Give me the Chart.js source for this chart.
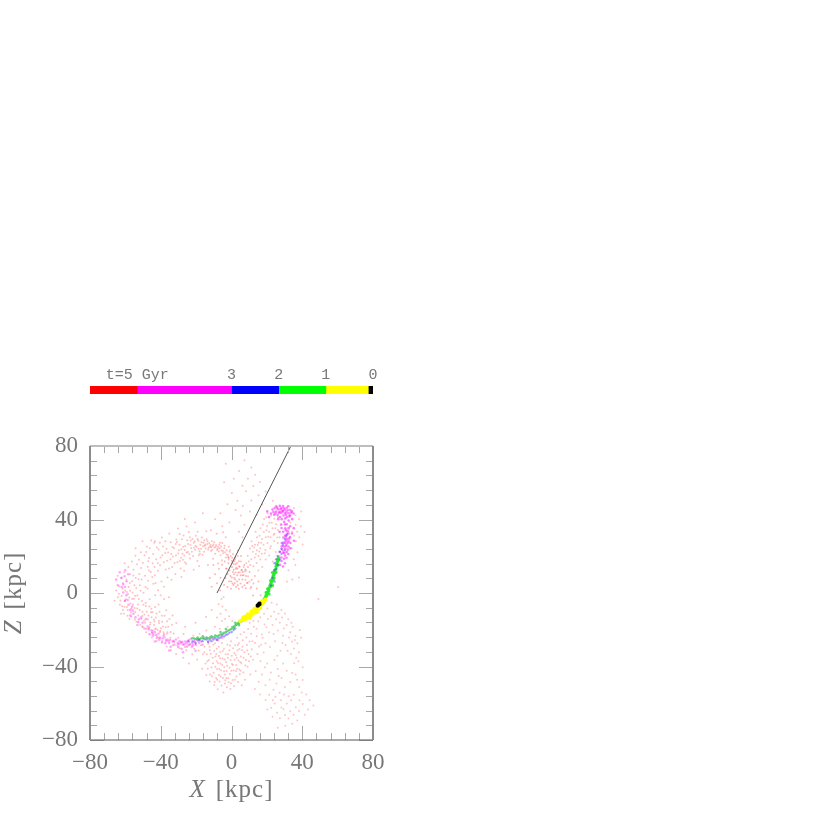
<!DOCTYPE html>
<html>
<head>
<meta charset="utf-8">
<title>Stream X-Z</title>
<script src="https://cdn.jsdelivr.net/npm/chart.js@4/dist/chart.umd.min.js"></script>
<style>
body { margin: 0; background: #fff; }
canvas { position: absolute; left: 0; filter: blur(0.5px); }
#scatter { top: 0; }
#timebar { top: 360px; }
</style>
</head>
<body>
<div style="position:relative;width:830px;height:830px;overflow:hidden">
<canvas id="scatter" width="830" height="830"></canvas>
<canvas id="timebar" width="400" height="50"></canvas>
</div>
<script>
// colour bar: length of each age band in Gyr, oldest on the left
const barBands = ["red", "magenta", "blue", "lime", "yellow", "black"];
const barLengths = [1, 2, 1, 1, 0.9, 0.1];
const barTickLabels = ["", "t=5 Gyr", "", "3", "2", "1", "0"];

// axis
const axisMin = -80;
const axisMax = 80;
const xTitle = ["X", "[kpc]"];
const zTitle = ["Z", "[kpc]"];

// the straight line, [x, z]
const orbitLine = [[-8.2, 0], [33.6, 80]];

// particles, [x, z] in kpc
const redRingTop = [
[-44.3,21.2],[-42.6,18.4],[-41.2,23.7],[-40.4,15.1],[-39.1,20.6],[-38.7,25.3],[-37.2,12.8],[-36.4,17.5],[-35.8,22.1],[-34.3,27.6],[-33.6,14.2],[-33.1,19.9],[-32.5,24.4],[-31.7,10.3],[-31.2,29.1],
[-30.6,16.7],[-30.1,21.5],[-29.4,26.2],[-28.8,13.4],[-28.3,23.8],[-27.5,18.1],[-27.1,31.3],[-26.7,20.4],[-26.2,25.6],[-25.6,15.9],[-25.1,28.7],[-24.7,22.3],[-24.2,33.2],[-23.5,18.8],[-23.2,26.1],[-22.8,24.5],
[-22.1,29.4],[-21.7,20.2],[-21.3,27.3],[-20.6,23.6],[-20.2,31.1],[-19.7,25.2],[-19.3,17.4],[-18.8,28.5],[-18.1,22.7],[-17.6,26.3],[-17.2,24.1],[-16.7,30.2],[-16.4,20.8],[-15.8,27.4],[-15.2,25.7],[-14.6,24.2],
[-14.1,29.3],[-13.7,26.6],[-13.2,23.5],[-12.6,27.1],[-12.2,25.3],[-11.6,22.8],[-11.1,28.2],[-10.7,25.6],[-10.2,26.4],[-9.6,24.7],[-9.2,21.3],[-8.7,26.1],[-8.1,23.4],[-7.6,25.2],[-7.2,22.6],[-6.7,24.3],
[-6.2,20.5],[-5.6,23.1],[-5.2,27.2],[-4.7,21.6],[-4.1,24.4],[-3.6,22.2],[-3.2,19.3],[-2.7,23.3],[-2.1,20.7],[-1.6,18.2],[-1.1,22.4],[-0.4,20.1],[0.2,17.6],[0.8,21.2],[1.3,15.7],[1.9,18.4],
[2.4,13.2],[3.1,16.3],[3.6,20.2],[4.2,14.5],[4.7,11.3],[5.3,17.2],[5.8,12.4],[6.3,9.6],[6.9,14.1],[7.4,11.7],[7.9,7.2],[8.3,12.3],[8.8,5.4],[9.4,9.1],[10.2,6.3],[10.7,2.4],
[-46.2,24.3],[-43.3,28.1],[-39.4,30.2],[-35.2,32.4],[-30.3,35.1],[-25.4,36.2],[-20.6,38.3],[-14.2,33.6],[-8.4,32.2],[-3.3,30.4],[-47.1,17.3],[-36.2,8.4],[-28.3,8.7],[-21.4,12.6],[-13.3,15.2],[-7.6,16.1],
[-43.5,14.2],[-40.5,27.3],[-37.5,21.8],[-34.5,18.3],[-31.5,26.7],[-28.5,19.2],[-26.5,23.4],[-23.5,30.3],[-18.5,20.6],[-15.5,22.4],[-11.5,24.9],[-6.5,27.3],[-1.5,25.2],[3.5,23.1],
[-42.2,24.8],[-41.7,16.2],[-40.1,19.3],[-38.2,16.7],[-37.4,28.2],[-36.7,24.1],[-35.3,13.4],[-34.1,21.2],[-33.4,25.1],[-32.2,16.3],[-31.4,20.4],[-30.8,27.7],[-29.7,23.2],[-29.2,17.4],[-28.1,29.3],[-27.7,21.4],
[-27.3,25.2],[-26.3,16.8],[-25.4,22.1],[-24.6,26.7],[-23.8,21.2],[-23.1,28.6],[-22.4,22.4],[-21.2,24.6],[-20.8,28.1],[-20.3,25.7],[-19.2,29.4],[-18.6,24.1],[-17.8,21.3],[-16.9,27.6],[-16.1,25.4],[-15.4,28.7],
[-14.8,26.3],[-13.6,28.2],[-12.9,24.6],[-11.8,26.2],[-10.9,23.6],[-9.8,27.6],[-8.9,25.2],[-7.9,24.1],[-6.9,26.2],[-5.9,25.3],[-4.8,22.9],[-3.9,25.7],[-2.8,21.1],[-1.9,19.6],[-0.8,23.2],[0.4,19.2],
[-46.7,12.3],[-44.8,8.7],[-42.9,5.4],[-33.9,7.2],[-26.8,12.1],[-18.3,14.7],[-10.4,18.6],[-5.4,17.8],[-45.4,28.6],[-48.2,22.3],[-29.3,32.1],[-19.1,33.4],[-11.7,34.2],[-4.7,33.1],[-26.4,40.3],[-16.2,43.4]
];
const redRingLeft = [
[-64.2,-2.3],[-63.4,3.6],[-63.1,-6.4],[-62.3,8.2],[-62.1,-1.7],[-61.4,-9.3],[-61.2,4.6],[-60.7,11.3],[-60.2,-4.2],[-60.1,1.4],[-59.4,7.3],[-59.1,-7.6],[-58.8,-12.4],[-58.3,14.2],[-58.2,3.3],[-57.8,-2.4],
[-57.4,10.2],[-57.1,-5.7],[-56.8,-10.6],[-56.3,17.1],[-56.2,6.4],[-55.9,0.3],[-55.4,12.6],[-55.2,-3.1],[-54.8,-8.2],[-54.6,-14.4],[-54.3,20.3],[-54.1,8.2],[-53.8,2.7],[-53.4,15.6],[-53.2,-1.3],[-52.9,-6.2],
[-52.7,-12.3],[-52.3,18.1],[-52.1,10.4],[-51.8,4.2],[-51.6,-17.4],[-51.3,22.2],[-51.1,13.6],[-50.8,7.3],[-50.6,-4.4],[-50.3,-10.2],[-50.1,16.4],[-49.7,0.2],[-49.4,-15.1],[-49.2,20.6],[-48.9,9.4],[-48.6,3.3],
[-48.4,-7.1],[-48.2,-19.4],[-47.8,25.2],[-47.4,14.3],[-47.2,6.6],[-46.9,-12.2],[-46.6,19.1],[-46.3,-3.4],[-46.1,-17.2],[-45.7,11.4],[-45.3,-8.6],[-45.1,-21.3],[-44.6,16.2],[-44.2,5.1],[-43.9,-14.4],[-43.6,27.3],
[-43.4,9.6],[-43.1,-1.2],[-42.7,-19.3],[-42.4,-11.2],[-42.1,-23.4],[-41.6,12.1],[-41.3,-6.2],[-40.9,-16.3],[-40.4,-21.2],[-39.6,6.3],[-39.3,-12.4],[-38.8,-18.2],[-38.1,-3.3],[-37.6,-24.2],[-36.9,-9.4],
[-60.5,-7.5],[-58.5,-0.5],[-56.5,-8.5],[-54.5,-1.5],[-52.5,7.5],[-50.5,-12.5],[-48.5,-5.5],[-47.5,2.5],[-45.5,-10.5],[-43.5,-15.5],[-41.5,1.5],[-61.5,2.5],[-57.5,5.5],[-55.5,9.5],
[-65.2,1.3],[-66.1,-4.2],[-62.4,-11.3],[-64.3,9.4],[-60.4,16.2],[-54.2,24.4],[-50.3,28.2],[-35.4,-2.3],[-38.2,3.4],[-33.3,-12.2],[-36.4,-15.4],[-40.1,-1.2],
[-63.7,-0.4],[-62.8,-4.1],[-61.9,-7.2],[-60.8,-11.3],[-59.7,-3.4],[-59.2,0.6],[-58.7,-9.2],[-57.7,-14.2],[-57.3,1.2],[-56.6,-12.8],[-56.1,-3.2],[-55.7,-6.2],[-54.9,4.2],[-54.4,-10.3],[-53.7,-15.6],[-53.3,-8.4],
[-52.4,-3.3],[-51.9,-9.2],[-51.4,1.2],[-50.9,-14.2],[-50.2,-18.3],[-49.8,-6.4],[-49.3,-11.7],[-48.8,-16.2],[-47.9,-10.2],[-47.3,-14.3],[-46.8,-19.2],[-46.4,-7.3],[-45.8,-16.1],[-45.2,-13.2],[-44.7,-10.4],[-44.3,-20.6],
[-43.8,-17.4],[-43.2,-7.6],[-42.8,-13.3],[-41.8,-20.2],[-41.1,-15.3],[-40.7,-10.2],[-39.9,-19.2],[-39.2,-15.6],[-38.4,-21.3],[-37.8,-12.4],[-37.2,-18.6],[-36.6,-22.2],[-35.8,-18.3],[-35.1,-14.2],[-34.4,-21.2],[-33.7,-17.3]
];
const redLowerArc = [
[-50.4,-18.3],[-48.2,-21.4],[-46.3,-18.6],[-45.1,-24.2],[-44.4,-22.3],[-43.2,-19.7],[-42.3,-26.1],[-41.2,-24.4],[-40.3,-20.6],[-39.4,-27.2],[-38.2,-22.3],[-37.3,-25.4],[-36.6,-29.1],[-36.2,-21.3],[-35.4,-26.2],[-34.6,-24.3],
[-34.2,-31.2],[-33.3,-28.4],[-32.7,-22.1],[-32.2,-26.6],[-31.3,-33.2],[-30.6,-28.4],[-30.1,-24.3],[-29.4,-30.1],[-28.6,-26.7],[-27.3,-35.2],[-27.1,-22.3],[-26.4,-29.4],[-25.6,-31.2],[-24.4,-25.6],[-24.1,-38.3],[-23.3,-28.2],
[-22.2,-33.4],[-21.6,-23.2],[-21.1,-30.3],[-20.3,-27.8],[-19.4,-36.2],[-18.6,-31.3],[-18.1,-22.2],[-17.3,-28.4],[-16.6,-41.2],[-16.2,-33.3],[-15.3,-29.2],[-14.2,-20.4],[-13.6,-37.2],[-13.1,-27.6],[-12.3,-31.2],[-12.1,-44.3],
[-11.4,-24.2],[-10.6,-35.3],[-10.2,-28.2],[-9.4,-18.3],[-9.1,-40.2],[-8.3,-30.4],[-8.1,-47.2],[-7.4,-25.8],[-7.1,-34.3],[-26.2,-18.4],[-20.3,-16.2],[-31.2,-16.3],[-14.4,-13.1],[-11.2,-9.3]
];
const redLowerCloud = [
[-15.4,-32.2],[-14.7,-38.3],[-14.2,-44.6],[-13.4,-41.2],[-12.8,-36.4],[-12.3,-48.2],[-11.7,-33.1],[-11.3,-40.6],[-11.1,-45.3],[-10.4,-38.2],[-10.1,-43.4],[-9.8,-50.1],[-9.3,-27.4],[-9.1,-34.6],[-8.7,-46.3],[-8.4,-37.2],
[-8.2,-41.3],[-7.8,-52.4],[-7.2,-29.3],[-7.1,-44.6],[-6.8,-48.2],[-6.4,-32.1],[-6.2,-38.4],[-5.9,-42.2],[-5.7,-50.3],[-5.4,-27.2],[-5.1,-35.6],[-4.8,-46.2],[-4.6,-54.1],[-4.3,-30.4],[-4.1,-40.3],[-3.8,-44.4],
[-3.7,-49.2],[-3.3,-33.3],[-3.1,-37.6],[-2.8,-42.4],[-2.6,-51.3],[-2.3,-28.1],[-2.1,-35.3],[-1.8,-46.4],[-1.6,-48.6],[-1.2,-31.2],[-1.1,-40.7],[-0.8,-44.1],[-0.6,-52.2],[-0.2,-26.3],[0.1,-34.2],[0.3,-38.6],
[0.6,-47.3],[0.9,-30.1],[1.2,-42.2],[1.4,-50.6],[1.7,-36.3],[2.1,-28.4],[2.3,-33.7],[2.6,-39.2],[2.8,-45.4],[3.2,-24.3],[3.4,-31.2],[3.7,-48.4],[3.9,-36.8],[4.2,-27.3],[4.4,-41.6],[4.7,-44.2],
[5.1,-22.4],[5.3,-34.6],[5.6,-38.2],[5.8,-50.2],[6.2,-29.3],[6.4,-25.7],[6.7,-43.2],[7.1,-21.4],[7.3,-32.3],[7.6,-47.2],[8.2,-36.4],[8.4,-24.2],[8.7,-28.3],[9.1,-40.2],[9.4,-19.6],[9.7,-33.2],
[10.2,-26.4],[10.6,-44.3],[11.1,-22.2],[11.4,-30.6],[12.2,-36.3],[12.6,-18.4],[13.3,-27.2],[13.7,-42.4],[14.2,-23.6],[14.6,-33.2],[15.2,-15.4],[15.6,-29.1],[-5.7,-3.2],[-5.1,-7.4],[-6.2,-11.3],[-5.4,-15.2],
[-6.6,-19.4],[-4.6,-22.3],[-3.2,-9.3],[-3.6,-14.2],[-7.3,-6.1],[-2.2,-18.4],[-1.3,-12.6],[-8.2,-13.3],[0.5,-15.2],[-4.5,-2.3],[-9.5,-48.5],[-6.5,-35.5],[-3.5,-47.5],[-0.5,-36.5],[2.5,-42.5],[4.5,-30.5],
[-13.9,-33.4],[-12.4,-29.3],[-9.8,-31.6],[-8.6,-33.2],[-6.9,-41.3],[-5.3,-39.2],[-4.9,-31.6],[-3.9,-36.2],[-2.4,-39.6],[-1.9,-33.4],[-0.9,-28.6],[-0.1,-42.3],[0.8,-39.2],[1.6,-32.6],[2.9,-35.2],[3.6,-28.3],
[4.9,-37.6],[5.9,-31.2],[6.9,-35.3],[7.8,-39.4],[8.9,-31.3],[9.9,-37.2],[10.9,-34.6],[11.8,-26.3],[-7.6,-38.1],[-6.1,-45.4],[-4.2,-42.6],[-2.9,-46.3],[-0.3,-49.1],[1.9,-47.2],[3.1,-41.2],[5.2,-42.3]
];
const redLowerRight = [
[10.3,-16.2],[12.4,-15.3],[14.2,-19.4],[16.3,-13.2],[17.1,-22.6],[18.4,-11.3],[18.7,-17.2],[19.2,-27.3],[20.3,-8.4],[20.6,-14.2],[21.2,-21.4],[22.3,-12.6],[22.7,-5.3],[23.2,-17.4],[24.1,-10.2],[24.6,-26.2],[25.2,-14.3],
[25.7,-6.2],[26.2,-20.4],[26.6,-11.3],[27.3,-16.2],[27.7,-31.4],[28.2,-9.3],[28.6,-13.4],[29.1,-23.2],[29.6,-19.3],[30.2,-11.2],[30.6,-28.3],[31.2,-17.4],[32.1,-14.3],[32.5,-24.2],[33.2,-21.3],[33.6,-33.2],[34.2,-26.4],
[34.6,-18.3],[35.3,-30.2],[36.2,-23.4],[36.6,-35.2],[37.2,-27.3],[38.1,-32.3],[38.6,-20.2],[18.2,-32.4],[16.4,-37.2],[20.2,-38.3],[17.2,-44.4],[22.3,-43.2],[15.4,-48.3],[19.2,-50.2],[24.3,-36.4],[26.2,-41.3],
[28.3,-46.2],[25.4,-49.3],[13.2,-52.2],[21.3,-55.4],[27.2,-54.3],[30.2,-51.2],[33.3,-48.4],[31.2,-42.3],[36.2,-44.4],[38.3,-51.2],[40.2,-47.3],[42.3,-55.2],[38.4,-58.3],[35.2,-55.4],[31.3,-60.2],[28.2,-62.3],
[24.4,-60.2],[20.3,-63.4],[23.2,-67.3],[27.4,-68.2],[30.3,-66.4],[33.2,-64.3],[36.4,-62.2],[40.3,-60.4],[44.2,-58.3],[46.3,-61.2],[41.4,-66.3],[37.2,-69.4],[34.3,-71.2],[30.4,-72.3],[26.2,-73.4],[32.3,-56.2],[29.2,-38.4],
[23.4,-58.3],[43.2,-63.4],[35.4,-38.2],[40.3,-40.4],[19.3,-58.2],[16.2,-55.3],
[17.6,-24.3],[19.8,-18.6],[21.7,-29.4],[23.8,-22.3],[25.9,-34.2],[28.8,-27.2],[31.7,-31.4],[33.9,-16.2],[35.8,-25.6],[37.8,-37.2],[39.3,-24.4],[16.8,-28.2],[18.9,-40.4],[21.6,-47.2],[23.7,-52.6],[26.7,-45.2],
[29.7,-55.3],[34.3,-43.6],[37.1,-47.2],[39.7,-54.2],[33.7,-58.4],[29.4,-63.3],[25.8,-65.2],[32.2,-68.3],[38.2,-64.2],[35.1,-66.3],[22.4,-62.4],[27.9,-58.3],[24.8,-56.4]
];
const redCore = [
[-4.2,4.3],[-3.4,8.2],[-3.1,13.4],[-2.3,3.2],[-2.2,10.3],[-1.8,16.2],[-1.4,6.4],[-1.1,12.3],[-0.3,2.3],[0.2,8.4],[0.3,14.2],[0.6,5.2],[1.1,4.3],[1.4,10.2],[1.2,12.6],[1.7,17.3],[2.1,7.4],
[2.3,11.2],[2.4,15.6],[2.6,3.3],[3.2,6.2],[3.3,9.6],[3.4,13.2],[4.1,2.3],[4.3,7.4],[4.2,17.3],[5.1,5.2],[5.2,9.6],[5.4,20.2],[6.1,3.3],[6.2,7.3],[6.3,11.4],[7.2,15.3],[7.3,4.2],[8.1,2.6],[8.2,9.3],
[9.1,5.6],[9.3,14.2],[10.2,11.4],[11.1,3.3],[11.4,7.2],[12.2,-1.3],[12.4,5.2],[13.2,9.3],[14.3,2.4],[15.2,6.3],[16.4,-1.2],[-6.2,8.3],[-7.1,13.2],[-5.3,15.4],[-8.2,5.3],[-9.3,10.2],[-11.2,3.4],[-12.3,8.2],[-6.4,1.3],[-10.2,15.2],
[-0.6,9.3],[0.8,11.4],[1.6,8.2],[2.8,13.7],[3.8,11.2],[4.6,14.3],[5.7,12.6],[6.8,9.7],[7.8,12.8],[-2.7,13.2],[-3.8,17.2],[-1.6,19.2],[0.6,16.4],[2.2,19.3],[-0.2,6.3],[1.8,5.3],[3.6,4.2]
];
const redUpper = [
[8.3,16.2],[9.2,20.3],[10.4,24.2],[10.6,15.3],[11.2,18.4],[11.3,28.2],[12.1,22.4],[12.4,14.6],[13.2,19.3],[13.3,26.2],[13.6,33.4],[14.2,16.3],[14.3,23.2],[14.4,30.4],[15.1,12.3],[15.2,20.2],[15.4,27.3],[16.2,24.4],[16.3,18.2],[16.4,35.3],
[17.2,21.3],[17.3,29.4],[17.4,14.2],[18.1,26.3],[18.3,33.2],[18.4,40.3],[19.2,23.4],[19.3,18.2],[19.4,30.3],[20.1,36.4],[20.3,27.2],[20.4,43.3],[21.2,33.3],[21.3,20.4],[21.4,38.2],[22.1,30.3],[22.3,25.4],[22.4,42.2],[23.2,35.3],[23.3,17.2],
[24.1,28.3],[24.2,40.4],[24.3,32.2],[25.1,22.3],[25.2,37.4],[26.1,27.2],[26.2,34.3],[26.3,41.2],[27.1,30.4],[27.2,20.3],[36.2,42.3],[36.3,37.2],[37.1,33.4],[36.4,28.2],[38.2,40.3],[38.3,30.4],[39.2,36.3],[35.3,46.2],[34.1,24.3],[35.2,18.4],
[37.3,22.2],[34.3,33.3],[33.2,38.4],[35.4,31.2],[36.1,15.3],[40.2,26.4],[41.3,33.2],[39.4,44.3],[32.2,12.4],[34.4,7.3],[31.3,6.2],[38.1,8.4],[-1.2,38.3],[2.3,45.2],[4.2,33.4],[5.3,42.2],[6.2,30.3],[7.3,37.2],
[-2.3,48.3],[0.2,54.4],[3.3,50.2],[6.4,47.3],[8.2,55.4],[9.3,62.2],[10.4,44.3],[11.2,50.4],[12.3,58.2],[13.4,64.3],[14.2,42.4],[15.3,53.2],[4.3,66.4],[6.2,58.3],[-3.2,70.4],[1.3,62.2],[-4.2,60.3],[7.3,72.2],[-6.3,43.4],[11.2,68.3],
[17.4,48.2],[19.3,55.3],[16.2,60.4],[-9.3,40.2],[-5.2,36.3],[23.4,50.2],[49.2,-3.3],[60.2,3.2],
[12.8,24.7],[14.8,26.1],[15.8,31.2],[16.8,27.4],[18.8,21.6],[19.8,34.2],[20.8,30.6],[21.8,24.3],[22.8,38.2],[23.8,31.7],[24.8,35.3],[25.8,30.2],[17.7,37.3],[19.6,41.2],[15.7,22.6],[13.8,21.2],[11.7,25.6],[9.8,17.2]
];
const magentaTop = [
[22.3,43.2],[23.2,45.4],[24.1,42.6],[24.4,46.2],[25.2,44.3],[25.3,47.2],[26.1,42.4],[26.3,45.6],[27.2,44.2],[27.3,47.4],[27.4,41.3],[28.1,43.6],[28.2,46.3],[28.4,40.2],[29.1,44.4],[29.2,47.3],[29.4,42.2],[30.1,45.3],[30.3,43.4],[30.4,40.6],
[31.2,46.4],[31.1,44.2],[31.3,41.3],[32.2,43.4],[32.1,47.2],[32.3,39.4],[33.2,45.2],[33.1,42.3],[34.2,44.4],[34.3,40.2],[35.1,43.3],[21.2,41.3],[20.2,44.4],[26.4,40.2],[30.2,37.3],[28.3,35.4],[29.2,33.3],[30.4,35.2],[31.2,37.4],[32.3,35.3],
[31.3,32.2],[33.2,36.3],[32.2,32.4],[30.3,31.3],[29.3,30.2],[31.4,29.3],[33.1,30.4],[32.4,28.2],[30.2,27.3],[31.1,26.4],[33.3,27.2],[29.4,27.4],[32.2,25.3],[30.4,24.2],[31.2,22.3],[28.4,25.4],[33.2,24.3],[29.2,22.2],[30.3,20.4],[28.2,19.3],
[31.1,19.2],[27.3,22.4],[32.1,21.2],[28.3,17.4],[26.2,18.3],[30.2,16.2],[27.4,15.3],[29.1,14.4],[25.3,14.2],[35.2,35.3],[34.2,32.4],[27.2,33.3],[28.1,37.2],[35.3,28.4],
[23.7,44.1],[24.8,43.2],[25.8,46.4],[26.8,43.7],[27.8,45.6],[28.8,44.8],[29.7,46.1],[30.8,42.6],[31.8,45.2],[32.7,41.7],[33.7,43.8],[29.8,38.7],[30.8,34.2],[31.8,33.6],[30.7,30.6],[32.6,29.7],[31.7,27.4],[30.8,25.6],[31.8,23.6],[29.8,21.7],
[29.7,18.6],[29.6,25.3],[28.7,23.6],[30.7,28.4]
];
const magentaArc = [
[-62.2,8.3],[-61.3,5.2],[-60.4,9.1],[-60.2,3.3],[-59.3,6.4],[-62.1,3.2],[-61.2,0.3],[-59.4,-1.2],[-60.3,-4.3],[-58.2,-6.4],[-57.3,-9.2],[-55.4,-11.3],[-56.2,-7.4],[-54.3,-13.2],[-52.4,-14.3],[-53.2,-17.4],[-50.3,-16.2],[-49.2,-19.3],[-47.4,-18.2],[-46.3,-22.4],
[-45.2,-20.3],[-44.3,-23.2],[-43.4,-21.3],[-42.2,-24.4],[-41.3,-22.2],[-40.4,-24.3],[-39.2,-26.4],[-38.3,-23.2],[-37.4,-27.3],[-36.2,-25.4],[-35.3,-27.2],[-34.4,-29.3],[-33.2,-26.4],[-32.3,-28.2],[-31.4,-25.3],[-30.2,-29.4],[-30.4,-27.2],[-29.3,-26.3],[-28.2,-30.4],[-28.4,-27.3],
[-27.3,-28.2],[-26.2,-26.4],[-25.3,-29.2],[-25.4,-27.3],[-24.2,-28.4],[-23.3,-25.2],[-22.4,-29.3],[-22.2,-27.4],[-21.3,-26.2],[-20.2,-28.3],[-19.4,-25.4],[-18.3,-27.2],[-17.2,-26.3],[-16.4,-28.2],[-15.3,-24.4],[-13.2,-26.6],[-11.3,-24.7],[-57.2,-12.3],[-48.4,-14.2],[-43.3,-26.4],
[-35.2,-31.3],[-27.4,-32.2],[-20.3,-31.4],[-64.3,4.2],[-63.2,11.3],[-60.1,12.4],[-65.2,7.3],[-58.4,10.2],[-8.3,-25.6],[-5.2,-24.3],
[-32.7,-26.1],[-29.8,-27.8],[-27.8,-26.6],[-26.7,-27.9],[-24.8,-26.2],[-23.7,-27.6],[-21.8,-28.4],[-20.8,-26.6],[-18.8,-26.1],[-46.8,-19.7],[-44.8,-21.6],[-42.8,-22.7],[-40.8,-25.4],[-38.8,-24.6],[-36.8,-26.1],[-34.8,-25.6],[-52.7,-15.8],[-51.2,-13.4],[-55.8,-9.6],[-58.7,-3.8]
];
const blueStream = [
[-24.2,-26.3],[-22.1,-26.4],[-20.3,-27.2],[-18.2,-25.6],[-16.4,-26.2],[-14.1,-25.3],[-12.3,-25.4],[-10.2,-25.3],[-9.1,-24.6],[-7.3,-24.6],[-6.2,-24.2],[-4.1,-23.6],[-3.2,-22.7],[-1.2,-21.6],[0.1,-21.2],[1.2,-20.2],[2.1,-19.3],[-13.2,-26.5],[-11.3,-26.2],[-8.2,-25.5],
[-5.3,-23.2],[-2.2,-22.5],[24.3,16.2],[25.2,18.3],[26.1,20.2],[27.3,22.4],[28.2,24.1],[29.1,26.3],[27.4,18.2],[28.3,21.3],[26.2,15.4],[25.3,13.1],[24.1,12.4],[23.2,8.3],[24.4,6.2],[22.3,4.1],[30.2,29.4],[28.4,27.2],[30.1,23.3],[31.2,31.4]
];
const greenArc = [
[-22.2,-24.6],[-21.1,-24.8],[-20.1,-25.2],[-19.1,-25.1],[-18.2,-25.1],[-17.2,-24.6],[-16.1,-24.7],[-15.2,-25.1],[-14.1,-24.2],[-13.2,-24.6],[-12.1,-24.2],[-11.3,-23.6],[-10.2,-24.1],[-9.2,-23.2],[-8.1,-23.6],[-7.2,-23.1],[-6.2,-22.6],[-5.1,-22.2],[-4.2,-21.6],[-3.1,-21.2],[-2.2,-20.6],[-1.1,-20.1],[-0.2,-19.6],
[0.5,-18.5],[1.1,-19.2],[1.5,-18.2],[2.2,-17.6],[2.8,-17.2],[3.5,-16.5],[4.1,-16.6],[4.5,-15.5],[5.2,-15.6],[5.5,-15.1],[6.1,-15.2],[-16.2,-23.5],[-6.2,-21.2],[2.1,-16.2],[-19.2,-24.2],[-3.2,-19.6],[4.2,-17.5]
];
const greenUpper = [
[18.2,-4.1],[18.5,-3.2],[19.1,-2.2],[19.5,-1.1],[20.1,-0.2],[20.5,0.5],[21.1,1.1],[21.2,2.2],[21.5,3.1],[22.1,3.6],[22.2,5.1],
[22.5,5.6],[23.1,6.5],[23.2,8.1],[23.5,9.2],[24.1,10.1],[24.2,11.2],[24.5,12.1],[25.1,13.2],[25.2,14.5],[25.5,15.2],[25.6,16.5],[26.1,17.2],[26.2,18.5],[26.5,19.2],[23.2,11.1],
[21.2,-0.5],[24.1,8.2],[23.2,4.1],[25.1,11.2],[26.2,15.1],[19.8,-1.7],[20.8,1.6],[21.8,4.2],[22.8,7.3],[23.8,9.8],[24.8,12.6],[25.8,15.7],[26.4,17.8],[19.6,0.4],[20.4,2.3],[22.1,6.7],[23.7,7.4]
];
const yellowStream = [
[6.1,-14.5],[6.5,-14.1],[7.1,-14.5],[7.5,-13.5],[8.1,-14.1],[8.5,-13.2],[9.1,-13.1],[9.5,-12.5],[10.1,-12.5],[10.5,-11.5],[11.1,-12.1],[11.5,-11.1],[12.1,-11.2],[12.5,-10.1],[13.1,-10.5],[13.5,-9.5],[14.1,-9.2],[14.5,-8.5],[15.1,-9.1],[15.5,-7.5],
[16.1,-7.2],[16.5,-6.5],[17.1,-6.1],[17.5,-5.5],[18.1,-5.2],[18.5,-4.5],[19.1,-3.5],[7.2,-13.1],[9.2,-11.5],[11.2,-10.2],[13.2,-8.5],[15.2,-7.2],[17.2,-4.5],[10.2,-13.5],[14.2,-10.5],[8.3,-12.6],[12.3,-9.4],[16.3,-8.2],[6.7,-13.3],[4.9,-15.2]
];
const blackStream = [
[15.1,-6.1],[15.5,-6.5],[16.1,-6.2],[15.1,-7.1],[15.5,-5.5],[14.5,-6.5],[14.5,-7.1],[16.1,-5.5]
];

// inward tick marks on all four sides, labels stay on the left and bottom
const insideTicks = {
    id: "insideTicks",
    afterDatasetsDraw(chart) {
        const { ctx, chartArea: a, scales } = chart;
        ctx.save();
        ctx.strokeStyle = "#a8a8a8";
        ctx.lineWidth = 1;
        scales.x.ticks.forEach((t) => {
            const px = Math.round(scales.x.getPixelForValue(t.value)) + 0.5;
            const len = t.value % 40 === 0 ? 14 : 7;
            ctx.beginPath();
            ctx.moveTo(px, a.top); ctx.lineTo(px, a.top + len);
            ctx.moveTo(px, a.bottom); ctx.lineTo(px, a.bottom - len);
            ctx.stroke();
        });
        scales.y.ticks.forEach((t) => {
            const py = Math.round(scales.y.getPixelForValue(t.value)) + 0.5;
            const len = t.value % 40 === 0 ? 14 : 7;
            ctx.beginPath();
            ctx.moveTo(a.left, py); ctx.lineTo(a.left + len, py);
            ctx.moveTo(a.right, py); ctx.lineTo(a.right - len, py);
            ctx.stroke();
        });
        // frame, the sides are not all the same grey in the original
        const side = (c, w, x1, y1, x2, y2) => {
            ctx.strokeStyle = c;
            ctx.lineWidth = w;
            ctx.beginPath();
            ctx.moveTo(x1, y1);
            ctx.lineTo(x2, y2);
            ctx.stroke();
        };
        side("#bdbdbd", 2, a.left, a.top, a.right, a.top);
        side("#555555", 1.2, a.left, a.bottom, a.right, a.bottom);
        side("#8c8c8c", 2, a.left, a.top, a.left, a.bottom);
        side("#8c8c8c", 2, a.right, a.top, a.right, a.bottom);
        ctx.restore();
    },
};

// axis titles have an italic letter followed by upright text
const mixedTitles = {
    id: "mixedTitles",
    afterDraw(chart) {
        const { ctx, chartArea: a } = chart;
        const italic = "italic 25px 'Liberation Serif'";
        const upright = "25px 'Liberation Serif'";
        const drawTitle = (parts) => {
            ctx.letterSpacing = "0px";
            ctx.font = italic;
            const w1 = ctx.measureText(parts[0]).width;
            ctx.font = upright;
            ctx.letterSpacing = "1px";
            const w2 = ctx.measureText(parts[1]).width;
            const gap = 11;
            const start = -(w1 + gap + w2) / 2;
            ctx.textBaseline = "middle";
            ctx.textAlign = "left";
            ctx.fillStyle = "#777777";
            ctx.letterSpacing = "0px";
            ctx.font = italic;
            ctx.fillText(parts[0], start, 0);
            ctx.font = upright;
            ctx.letterSpacing = "1px";
            ctx.fillText(parts[1], start + w1 + gap, 0);
        };
        ctx.save();
        ctx.translate((a.left + a.right) / 2, 790);
        drawTitle(xTitle);
        ctx.restore();
        ctx.save();
        ctx.translate(14, (a.top + a.bottom) / 2);
        ctx.rotate(-Math.PI / 2);
        drawTitle(zTitle);
        ctx.restore();
    },
};

const axisLabel = (v) => {
    if (v % 40 !== 0) return "";
    return v < 0 ? "\u2212" + Math.abs(v) : String(v);
};

const cloud = (points, color, radius) => ({
    data: points.map((p) => ({ x: p[0], y: p[1] })),
    showLine: false,
    pointRadius: radius,
    pointBorderWidth: 0,
    pointBackgroundColor: color,
});

const axisFont = { family: "'Liberation Serif'", size: 23 };

new Chart(document.getElementById("scatter"), {
    type: "scatter",
    data: {
        datasets: [
            {
                data: orbitLine.map((p) => ({ x: p[0], y: p[1] })),
                showLine: true,
                borderColor: "#555555",
                borderWidth: 1,
                pointRadius: 0,
            },
            cloud(blackStream, "#000000", 1.5),
            cloud(blueStream, "rgba(80,60,255,0.5)", 1.2),
            cloud(yellowStream, "#ffff00", 2),
            cloud(greenUpper, "rgba(40,235,40,0.9)", 1.6),
            cloud(greenArc, "rgba(60,200,90,0.75)", 1.3),
            cloud(magentaTop, "rgba(255,0,255,0.5)", 1.3),
            cloud(magentaArc, "rgba(255,30,255,0.38)", 1.3),
            cloud(redRingTop, "rgba(255,80,80,0.36)", 1),
            cloud(redRingLeft, "rgba(255,80,80,0.36)", 1),
            cloud(redLowerArc, "rgba(255,80,80,0.36)", 1),
            cloud(redLowerCloud, "rgba(255,80,80,0.34)", 1),
            cloud(redLowerRight, "rgba(255,80,80,0.32)", 1),
            cloud(redCore, "rgba(255,80,80,0.42)", 1),
            cloud(redUpper, "rgba(255,80,80,0.34)", 1),
        ],
    },
    options: {
        responsive: false,
        animation: false,
        clip: false,
        layout: { padding: { left: 0, top: 446, right: 457, bottom: 0 } },
        plugins: { legend: { display: false }, tooltip: { enabled: false } },
        scales: {
            x: {
                type: "linear",
                min: axisMin,
                max: axisMax,
                afterFit: (s) => { s.height = 90; },
                grid: { drawOnChartArea: false, drawTicks: false },
                border: { display: false },
                ticks: {
                    stepSize: 8,
                    autoSkip: false,
                    maxRotation: 0,
                    padding: 9,
                    color: "#777777",
                    font: axisFont,
                    callback: axisLabel,
                },
            },
            y: {
                type: "linear",
                min: axisMin,
                max: axisMax,
                afterFit: (s) => { s.width = 90; },
                grid: { drawOnChartArea: false, drawTicks: false },
                border: { display: false },
                ticks: {
                    stepSize: 8,
                    autoSkip: false,
                    padding: 12,
                    color: "#777777",
                    font: axisFont,
                    callback: axisLabel,
                },
            },
        },
    },
    plugins: [insideTicks, mixedTitles],
});

// Colour bar on top
new Chart(document.getElementById("timebar"), {
    type: "bar",
    data: {
        labels: ["t"],
        datasets: barBands.map((c, i) => ({
            data: [barLengths[i]],
            backgroundColor: c,
            borderWidth: 0,
            stack: "t",
            barPercentage: 1,
            categoryPercentage: 1,
        })),
    },
    options: {
        indexAxis: "y",
        responsive: false,
        animation: false,
        layout: { padding: { left: 90, top: 0, right: 27, bottom: 16 } },
        plugins: { legend: { display: false }, tooltip: { enabled: false } },
        scales: {
            x: {
                type: "linear",
                position: "top",
                min: 0,
                max: 6,
                stacked: true,
                afterFit: (s) => { s.height = 26; },
                grid: { display: false, drawTicks: false },
                border: { display: false },
                ticks: {
                    stepSize: 1,
                    autoSkip: false,
                    maxRotation: 0,
                    padding: 2,
                    color: "#777777",
                    font: { family: "'Liberation Mono'", size: 15 },
                    callback: (v) => barTickLabels[v],
                },
            },
            y: {
                stacked: true,
                display: false,
            },
        },
    },
});
</script>
</body>
</html>
